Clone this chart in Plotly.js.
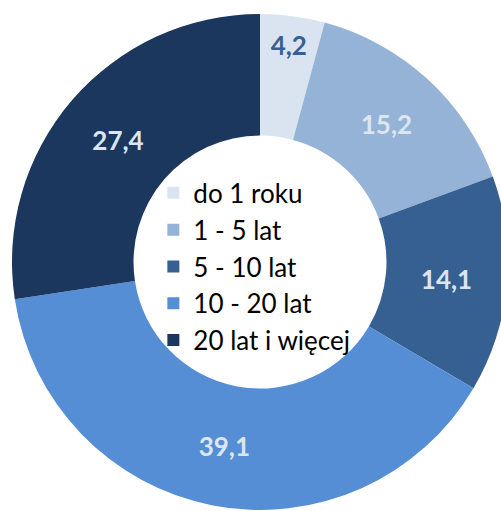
<!DOCTYPE html>
<html>
<head>
<meta charset="utf-8">
<script src="https://cdn.plot.ly/plotly-3.0.1.min.js"></script>
<style>
html,body{margin:0;padding:0;width:501px;height:511px;overflow:hidden;background:#fff;}
#chart{position:absolute;left:12px;top:14px;width:496px;height:496px;}
</style>
</head>
<body>
<div id="chart"></div>
<script>
const categories = ["do 1 roku", "1 - 5 lat", "5 - 10 lat", "10 - 20 lat", "20 lat i więcej"];
const values = [4.2, 15.2, 14.1, 39.1, 27.4];
const sliceColors = ["#dae4f1", "#95b3d7", "#376092", "#558ed5", "#1b375e"];
const labelColors = ["#376092", "#dce6f2", "#dce6f2", "#dce6f2", "#dce6f2"];

const trace = {
  type: "pie",
  labels: categories,
  values: values,
  sort: false,
  direction: "clockwise",
  rotation: 0,
  hole: 0.51,
  marker: {colors: sliceColors, line: {width: 0}},
  texttemplate: "%{value:.1f}",
  textposition: "inside",
  insidetextorientation: "horizontal",
  textfont: {family: "Lato, sans-serif", size: 26, weight: "bold", color: labelColors},
  hoverinfo: "none"
};

const layout = {
  width: 496,
  height: 496,
  margin: {l: 0, r: 0, t: 0, b: 0},
  paper_bgcolor: "rgba(0,0,0,0)",
  plot_bgcolor: "rgba(0,0,0,0)",
  separators: ", ",
  showlegend: true,
  legend: {
    x: 0.285, y: 0.49, xanchor: "left", yanchor: "middle",
    bgcolor: "rgba(0,0,0,0)",
    font: {family: "Lato, sans-serif", size: 26, color: "#000000"},
    tracegroupgap: 0
  }
};

Plotly.newPlot("chart", [trace], layout, {displayModeBar: false, staticPlot: true});
</script>
</body>
</html>
